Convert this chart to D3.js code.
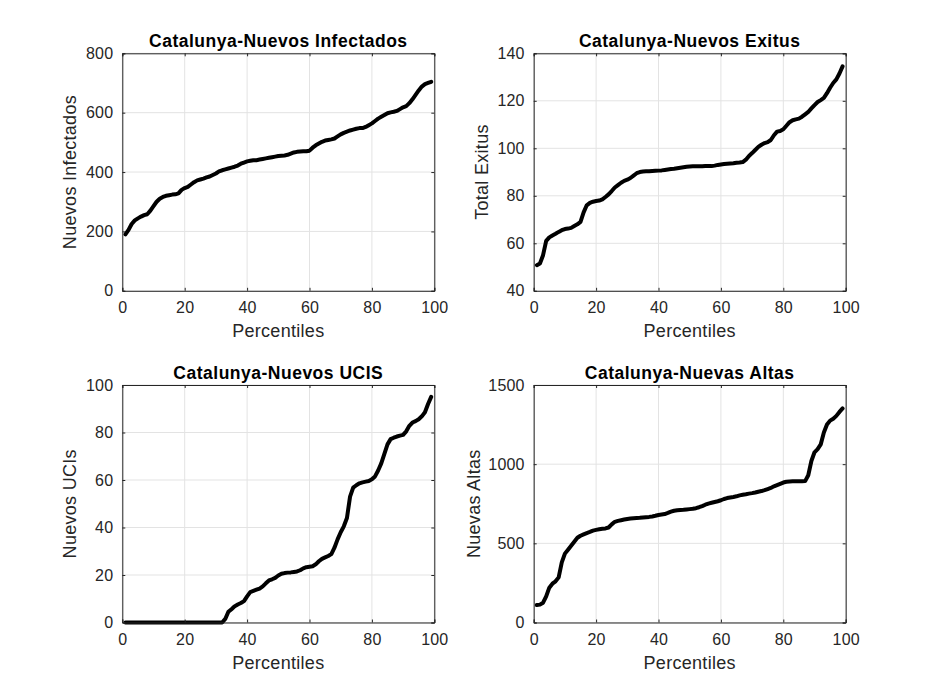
<!DOCTYPE html>
<html>
<head>
<meta charset="utf-8">
<script src="https://cdn.jsdelivr.net/npm/d3@7/dist/d3.min.js"></script>
<style>
  html, body { margin: 0; padding: 0; background: #ffffff; }
  svg { display: block; font-family: "Liberation Sans", Arial, Helvetica, sans-serif; }
</style>
</head>
<body>
<svg id="chart" width="934" height="700"></svg>
<script>
// ---- data ----
const percentiles = d3.range(1, 100); // 1..99
const xTicks = [0, 20, 40, 60, 80, 100];

const titles = [
  "Catalunya-Nuevos Infectados",
  "Catalunya-Nuevos Exitus",
  "Catalunya-Nuevos UCIS",
  "Catalunya-Nuevas Altas"
];
const yLabels = ["Nuevos Infectados", "Total Exitus", "Nuevos UCIs", "Nuevas Altas"];
const xLabel = "Percentiles";

const yDomains = [[0, 800], [40, 140], [0, 100], [0, 1500]];
const yTicks = [
  [0, 200, 400, 600, 800],
  [40, 60, 80, 100, 120, 140],
  [0, 20, 40, 60, 80, 100],
  [0, 500, 1000, 1500]
];

const infectados = [190,205,225,237,244,250,255,258,270,285,300,310,316,320,322,324,325,328,340,346,
  350,358,366,372,375,378,382,385,390,395,402,406,409,412,415,418,422,428,432,436,
  438,440,440,442,444,446,448,450,452,454,455,456,458,462,466,468,469,470,470,472,
  482,490,496,502,506,508,510,513,520,527,532,536,540,543,546,548,548,552,558,564,
  572,580,586,592,598,601,603,606,612,618,622,632,645,660,675,688,696,700,704];

const exitus = [50.8,51.5,55,61,62.5,63.3,64,64.8,65.5,66,66.2,66.5,67.3,68,69,73,76,77,77.5,77.8,
  78,78.5,79.5,80.6,82,83.5,84.5,85.5,86.3,86.8,87.5,88.5,89.5,90,90.2,90.3,90.3,90.4,90.5,90.6,
  90.7,90.9,91.1,91.3,91.4,91.6,91.8,92,92.2,92.3,92.4,92.4,92.4,92.4,92.5,92.5,92.5,92.7,93,93.2,
  93.4,93.5,93.6,93.7,93.9,94,94.2,95.2,96.8,98,99.3,100.6,101.5,102.2,102.6,103.5,105.5,107,107.3,108,
  109.5,111,111.8,112.2,112.5,113.3,114.3,115.3,116.8,118.2,119.5,120.3,121.2,123.2,125.5,127.5,129,131.5,134.5];

const ucis = [0,0,0,0,0,0,0,0,0,0,0,0,0,0,0,0,0,0,0,0,
  0,0,0,0,0,0,0,0,0,0,0,0,1.5,4.5,5.6,6.8,7.6,8.2,9,11,
  12.8,13.3,13.8,14.3,15.2,16.5,17.7,18.2,18.8,19.8,20.5,20.8,21,21.1,21.3,21.5,22,22.8,23.3,23.5,
  23.7,24.5,25.8,26.8,27.4,28,28.8,31.5,35,38,40.5,44,53,56.8,57.8,58.6,59,59.3,59.6,60.3,
  61.5,64,67,71,75,77.2,77.8,78.3,78.7,79,80.5,82.8,84.2,84.8,85.6,86.8,88.5,92,95];

const altas = [110,113,125,165,220,245,260,285,380,435,460,485,510,535,548,557,565,572,580,585,
  589,592,594,600,620,636,642,646,650,654,657,659,660,661,663,665,667,670,674,679,
  682,685,692,700,706,709,711,712,714,716,718,722,728,735,744,751,756,761,766,772,
  780,786,790,793,797,803,807,810,814,817,821,826,830,836,843,850,860,868,876,884,
  889,891,892,892,892,892,893,930,1020,1075,1095,1125,1200,1250,1275,1287,1305,1330,1352];

const seriesList = [infectados, exitus, ucis, altas];

// ---- layout ----
const panelLeft = [122.3, 533.7, 122.3, 533.7];
const panelTop = [53.3, 53.3, 385, 385];
const panelW = 312;
const panelH = 237.5;
const yLabelOffset = [46, 46, 46, 54];

const svg = d3.select("#chart");
const textCol = "#262626";
const gridCol = "#e3e3e3";

for (let i = 0; i < 4; i++) {
  const g = svg.append("g").attr("transform", `translate(${panelLeft[i]},${panelTop[i]})`);
  const x = d3.scaleLinear().domain([0, 100]).range([0, panelW]);
  const y = d3.scaleLinear().domain(yDomains[i]).range([panelH, 0]);

  // grid
  g.append("g").selectAll("line").data(xTicks).join("line")
    .attr("x1", d => x(d)).attr("x2", d => x(d))
    .attr("y1", 0).attr("y2", panelH)
    .attr("stroke", gridCol).attr("stroke-width", 1);
  g.append("g").selectAll("line").data(yTicks[i]).join("line")
    .attr("x1", 0).attr("x2", panelW)
    .attr("y1", d => y(d)).attr("y2", d => y(d))
    .attr("stroke", gridCol).attr("stroke-width", 1);

  // line
  const line = d3.line().x((d, j) => x(percentiles[j])).y(d => y(d));
  g.append("path").datum(seriesList[i])
    .attr("d", line)
    .attr("fill", "none")
    .attr("stroke", "#000")
    .attr("stroke-width", 4)
    .attr("stroke-linejoin", "round")
    .attr("stroke-linecap", "round");

  // axes (ticks inward, box)
  const axB = d3.axisBottom(x).tickValues(xTicks).tickSize(-3).tickPadding(9).tickFormat(d3.format("d"));
  const axT = d3.axisTop(x).tickValues(xTicks).tickSize(-3).tickFormat("");
  const axL = d3.axisLeft(y).tickValues(yTicks[i]).tickSize(-3).tickPadding(9).tickFormat(d3.format("d"));
  const axR = d3.axisRight(y).tickValues(yTicks[i]).tickSize(-3).tickFormat("");

  const styleAxis = sel => {
    sel.select(".domain").attr("stroke", textCol).attr("stroke-width", 1);
    sel.selectAll(".tick line").attr("stroke", textCol);
    sel.selectAll(".tick text").attr("fill", textCol)
      .style("font-size", "16px")
      .style("letter-spacing", "0.2px")
      .style("font-family", '"Liberation Sans", Arial, sans-serif');
  };
  g.append("g").attr("transform", `translate(0,${panelH})`).call(axB).call(styleAxis)
    .selectAll(".tick text").attr("dy", "0.85em");
  g.append("g").call(axT).call(styleAxis);
  g.append("g").call(axL).call(styleAxis);
  g.append("g").attr("transform", `translate(${panelW},0)`).call(axR).call(styleAxis);

  // title
  g.append("text")
    .attr("x", panelW / 2).attr("y", -6.5)
    .attr("text-anchor", "middle")
    .attr("fill", "#000")
    .style("font-size", "17.5px").style("font-weight", "bold")
    .style("letter-spacing", "0.5px")
    .text(titles[i]);

  // x label
  g.append("text")
    .attr("x", panelW / 2).attr("y", panelH + 46)
    .attr("text-anchor", "middle")
    .attr("fill", textCol)
    .style("font-size", "18px")
    .style("letter-spacing", "0.3px")
    .text(xLabel);

  // y label
  g.append("text")
    .attr("transform", `translate(${-yLabelOffset[i]},${panelH / 2}) rotate(-90)`)
    .attr("text-anchor", "middle")
    .attr("fill", textCol)
    .style("font-size", "18px")
    .style("letter-spacing", "0.3px")
    .text(yLabels[i]);
}
</script>
</body>
</html>
